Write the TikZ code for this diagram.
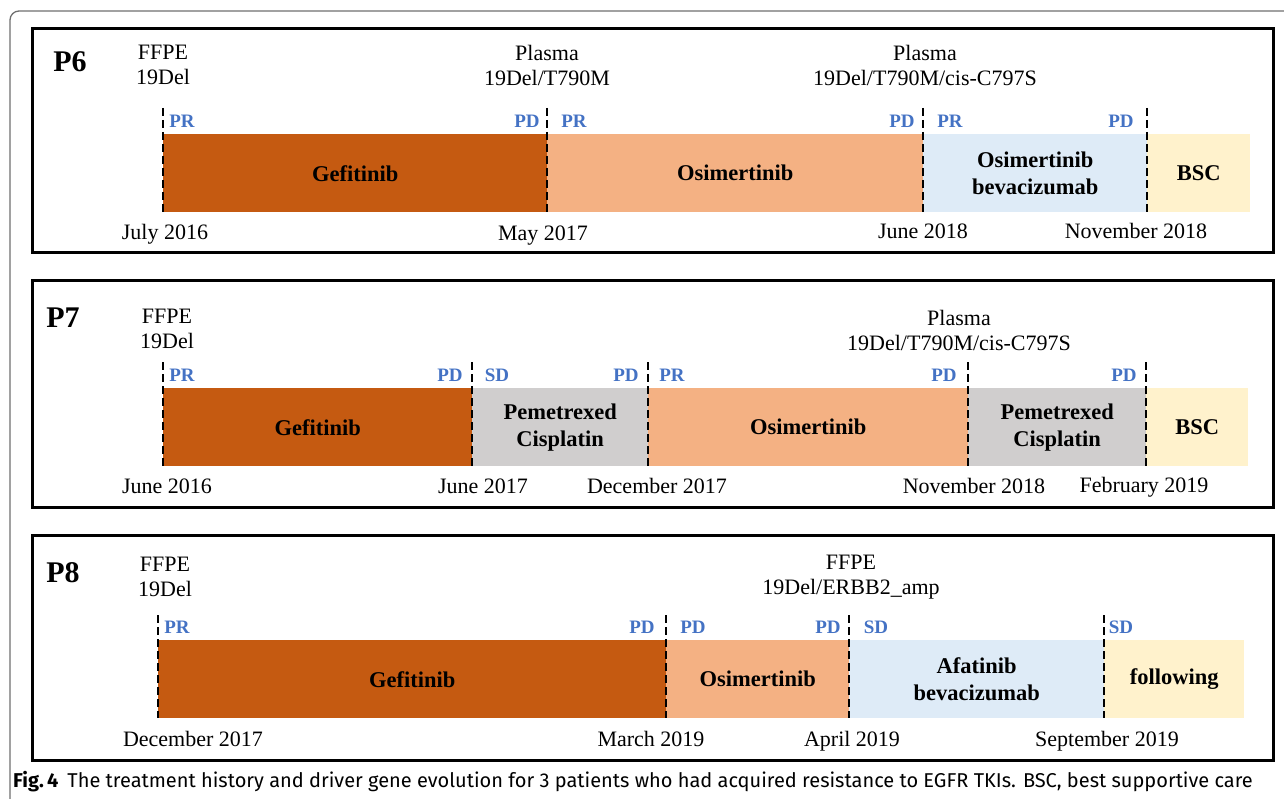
\documentclass[tikz,border=0pt]{standalone}
\usepackage{fontspec}
\setmainfont{Liberation Serif}
\newfontfamily\capfont{Fira Sans}
\usepackage{tikz}
\usetikzlibrary{calc}
\definecolor{gefcol}{HTML}{C55A11}
\definecolor{osicol}{HTML}{F4B183}
\definecolor{bevcol}{HTML}{DEEBF7}
\definecolor{chemcol}{HTML}{D0CECE}
\definecolor{bsccol}{HTML}{FFF2CC}
\definecolor{respblue}{HTML}{4472C4}
\definecolor{framegray}{HTML}{6E6E6E}

\begin{document}
\begin{tikzpicture}[x=1pt,y=-1pt]
      \tikzset{panel/.style={draw=black, line width=3pt},
        bar/.style={anchor=north west, minimum height=78pt, inner sep=0pt,
          align=center, font=\bfseries\fontsize{22.5}{27}\selectfont},
        resp/.style={inner sep=0pt, text=respblue,
          font=\bfseries\fontsize{19}{21}\selectfont},
        sample/.style={inner sep=0pt, align=center,
          font=\fontsize{22}{25}\selectfont},
        datelab/.style={inner sep=0pt, text height=15pt, text depth=4pt,
          font=\fontsize{22}{25}\selectfont},
        pid/.style={inner sep=0pt, font=\bfseries\fontsize{30}{32}\selectfont},
        cut/.style={line width=2pt, dash pattern=on 8pt off 4pt}
      }
      \useasboundingbox (0,0) rectangle (1284,799);
      % outer frame of the figure
      \draw [framegray, line width=1.3pt, rounded corners=9pt] (1290,11) -- (10,11) -- (10,806);

      % ---------- P6 ----------
      \draw [panel] (32,29) rectangle (1273,253);
      \node [pid] (p6) at (70,62) {P6};
      \node [sample] (s6a) at (163,65) {FFPE\\19Del};
      \node [sample] (s6b) at (547,65) {Plasma\\19Del/T790M};
      \node [sample] (s6c) at (925,65) {Plasma\\19Del/T790M/cis-C797S};

      \node [bar, fill=gefcol, minimum width=384pt] (b6a) at (163,134) {Gefitinib};
      \node [bar, fill=osicol, minimum width=376pt] (b6b) at (547,134) {Osimertinib};
      \node [bar, fill=bevcol, minimum width=224pt] (b6c) at (923,134) {Osimertinib\\bevacizumab};
      \node [bar, fill=bsccol, minimum width=103pt] (b6d) at (1147,134) {BSC};

      \coordinate (t6a) at (163,108);
      \coordinate (t6b) at (547,108);
      \coordinate (t6c) at (923,108);
      \coordinate (t6d) at (1147,108);
      \draw [cut] (t6a) -- (b6a.south west);
      \draw [cut] (t6b) -- (b6b.south west);
      \draw [cut] (t6c) -- (b6c.south west);
      \draw [cut] (t6d) -- (b6d.south west);

      \node [resp] (r6a) at (182,121) {PR};
      \node [resp] (r6b) at (527,121) {PD};
      \node [resp] (r6c) at (574,121) {PR};
      \node [resp] (r6d) at (902,121) {PD};
      \node [resp] (r6e) at (950,121) {PR};
      \node [resp] (r6f) at (1121,121) {PD};

      \node [datelab] (d6a) at (165,234) {July 2016};
      \node [datelab] (d6b) at (543,235) {May 2017};
      \node [datelab] (d6c) at (923,233) {June 2018};
      \node [datelab] (d6d) at (1136,233) {November 2018};

      % ---------- P7 ----------
      \draw [panel] (32,281) rectangle (1273,507);
      \node [pid] (p7) at (63,318) {P7};
      \node [sample] (s7a) at (167,329) {FFPE\\19Del};
      \node [sample] (s7b) at (959,330) {Plasma\\19Del/T790M/cis-C797S};

      \node [bar, fill=gefcol, minimum width=309pt] (b7a) at (163,388) {Gefitinib};
      \node [bar, fill=chemcol, minimum width=176pt] (b7b) at (472,388) {Pemetrexed\\Cisplatin};
      \node [bar, fill=osicol, minimum width=320pt] (b7c) at (648,388) {Osimertinib};
      \node [bar, fill=chemcol, minimum width=178pt] (b7d) at (968,388) {Pemetrexed\\Cisplatin};
      \node [bar, fill=bsccol, minimum width=102pt] (b7e) at (1146,388) {BSC};

      \coordinate (t7a) at (163,362);
      \coordinate (t7b) at (472,362);
      \coordinate (t7c) at (648,362);
      \coordinate (t7d) at (968,362);
      \coordinate (t7e) at (1146,362);
      \draw [cut] (t7a) -- (b7a.south west);
      \draw [cut] (t7b) -- (b7b.south west);
      \draw [cut] (t7c) -- (b7c.south west);
      \draw [cut] (t7d) -- (b7d.south west);
      \draw [cut] (t7e) -- (b7e.south west);

      \node [resp] (r7a) at (182,375) {PR};
      \node [resp] (r7b) at (450,375) {PD};
      \node [resp] (r7c) at (497,375) {SD};
      \node [resp] (r7d) at (626,375) {PD};
      \node [resp] (r7e) at (672,375) {PR};
      \node [resp] (r7f) at (944,375) {PD};
      \node [resp] (r7g) at (1124,375) {PD};

      \node [datelab] (d7a) at (167,488) {June 2016};
      \node [datelab] (d7b) at (483,488) {June 2017};
      \node [datelab] (d7c) at (657,488) {December 2017};
      \node [datelab] (d7d) at (974,488) {November 2018};
      \node [datelab] (d7e) at (1144,487) {February 2019};

      % ---------- P8 ----------
      \draw [panel] (32,535) rectangle (1273,760);
      \node [pid] (p8) at (63,573) {P8};
      \node [sample] (s8a) at (165,577) {FFPE\\19Del};
      \node [sample] (s8b) at (851,577) {FFPE\\19Del/ERBB2\_amp};

      \node [bar, fill=gefcol, minimum width=508pt] (b8a) at (158,640) {Gefitinib};
      \node [bar, fill=osicol, minimum width=183pt] (b8b) at (666,640) {Osimertinib};
      \node [bar, fill=bevcol, minimum width=255pt] (b8c) at (849,640) {Afatinib\\bevacizumab};
      \node [bar, fill=bsccol, minimum width=140pt] (b8d) at (1104,640) {following};

      \coordinate (t8a) at (158,615);
      \coordinate (t8b) at (666,615);
      \coordinate (t8c) at (849,615);
      \coordinate (t8d) at (1104,615);
      \draw [cut] (t8a) -- (b8a.south west);
      \draw [cut] (t8b) -- (b8b.south west);
      \draw [cut] (t8c) -- (b8c.south west);
      \draw [cut] (t8d) -- (b8d.south west);

      \node [resp] (r8a) at (177,627) {PR};
      \node [resp] (r8b) at (642,627) {PD};
      \node [resp] (r8c) at (693,627) {PD};
      \node [resp] (r8d) at (828,627) {PD};
      \node [resp] (r8e) at (876,627) {SD};
      \node [resp] (r8f) at (1121,627) {SD};

      \node [datelab] (d8a) at (193,741) {December 2017};
      \node [datelab] (d8b) at (651,741) {March 2019};
      \node [datelab] (d8c) at (852,741) {April 2019};
      \node [datelab] (d8d) at (1107,741) {September 2019};

      % caption
      \node [anchor=west, inner sep=0pt, font=\capfont\fontsize{20}{22}\selectfont] (cap) at (13,782)
        {\textbf{Fig.\,4}\hspace{9pt}The treatment history and driver gene evolution for 3 patients who had acquired resistance to EGFR TKIs. BSC, best supportive care};
    \end{tikzpicture}
\end{document}
